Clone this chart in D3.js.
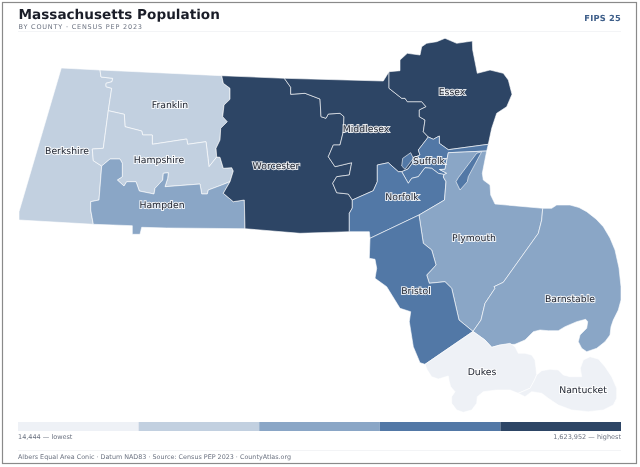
<!DOCTYPE html>
<html><head><meta charset="utf-8">
<script src="https://cdn.jsdelivr.net/npm/d3@7"></script>
<style>html,body{margin:0;padding:0;background:#fff}svg{display:block}text{font-family:"DejaVu Sans",sans-serif;text-rendering:geometricPrecision}</style>
</head><body><svg id="c" width="640" height="467"><defs><filter id="gray" filterUnits="userSpaceOnUse" x="0" y="0" width="640" height="467" color-interpolation-filters="sRGB"><feOffset dx="0" dy="0"/></filter></defs></svg>
<script>
// County population (read / estimated)
const counties = ["Berkshire","Franklin","Hampshire","Hampden","Worcester","Middlesex","Essex","Suffolk","Norfolk","Plymouth","Bristol","Barnstable","Dukes","Nantucket"];
const population = [129000,71000,162000,462000,862000,1623952,809000,771000,725000,530000,579000,228000,20600,14444];
const thresholds = [50000,200000,550000,800000];
const palette = ["#eef1f6","#c2d0e0","#8aa6c6","#5278a6","#2d4565"];
const legendLabels = ["14,444 — lowest","1,623,952 — highest"];
const labelAnchors = [[67,150.5],[170,105],[159,159.5],[162,204.5],[276,166],[366,129],[452,92],[429,161],[402,197],[474,238],[416,291],[570,299],[482,372],[583,390]];

// Shared borders, in projected map units
const bkFr = [[100,70],[101,77],[112.7,78.3],[112,81.7],[106,83.3],[106,86.7],[111.7,88.3],[108.3,110.7]];
const bkHs = [[108.3,110.7],[103.3,148.3],[92.3,149],[93.3,160.7],[101.7,166]];
const bkHd = [[101.7,166],[99,200],[90.7,201.7],[90.7,210],[93.3,224.3]];
const frHs = [[108.3,110.7],[124.3,114.3],[125,126.7],[141.7,131],[142.7,135],[152.3,135],[152.3,144.3],[186.7,139],[187.7,144.3],[206,141.7],[209,166.7],[216.7,157]];
const frWo = [[221.7,75.7],[223.3,83.3],[230,88.3],[230,99.3],[224,105],[222.7,116.7],[227.3,121.7],[220.7,128.3],[220,140],[216,148.3],[216.7,157]];
const hsHd = [[101.7,166],[110,159],[120,159],[122.3,163.3],[122.3,176.7],[117.3,180],[124,186],[126.7,181.7],[136,181.7],[139.3,191],[154,194],[155,188.3],[162.7,180],[163.3,173.3],[168.3,172.7],[167.7,178.3],[165,186.7],[200,184],[201.7,194],[207.3,194],[208.3,190],[221.7,185],[230,181.7]];
const hsWo = [[216.7,157],[220,157.3],[223.3,168.3],[231.7,167.7],[233.3,171],[230,181.7]];
const hdWo = [[230,181.7],[223.3,193.3],[233.3,201.7],[244.3,200],[245,228.7]];
const hdCoast = [[245,228.7],[166.7,228],[141.7,227.3],[140,234.3],[132.3,234.3],[132.3,225.7],[93.3,224.3]];
const wmEdge = [[284.3,78.3],[290.7,87.3],[290.7,94.3],[305,93.3],[320,99],[321,116.7],[326,118.3],[328.3,114],[340,113.3],[344,116.7],[343.3,131.7],[340,145],[333.3,145],[328.3,156.7],[335,166.7],[351.7,162.7],[349.3,175],[336.7,176.7],[332.7,183.3],[336.7,192.7],[348.3,194],[352.3,200]];
const wNf = [[352.3,200],[352.3,208],[349.3,213.3],[349.3,231.7]];
const mxNf = [[352.3,200],[373.3,190.7],[377.3,181.7],[377.3,165],[388.3,162.7],[398.3,171.7],[401.7,171.7]];
const mxEs = [[389,71.7],[389,88.3],[401.7,98.3],[405,98.3],[407.3,101.7],[421.7,101.7],[426,106.7],[419.3,110],[419.3,116.7],[425,120],[423.3,131.7],[428.3,137]];
const mxSu = [[428.3,137],[418.3,150],[420,155],[413.3,158],[412.5,163],[408,169],[401.7,171.7]];
const suEs = [[428.3,137],[433.3,139.3],[439.3,136],[439.3,143.3],[448.3,149.7]];
const suNf = [[401.7,171.7],[408.3,183.3],[411.7,178.3],[418.3,176.7],[425,167.7],[431.7,168.3],[438.3,173.3],[444,174.5]];
const plWest = [[448.3,152.7],[445,169.3],[439.5,169.5],[446.7,173.3],[444,174.5]];
const plNf = [[444,174.5],[443.3,177],[446,181.7],[444.5,200],[419,215]];
const plBr = [[419,215],[423.3,243.3],[431.7,250],[436,265],[426.7,275],[429.3,283.3],[445,281.7],[451.7,288.3],[459,320],[473,331.4]];
const plBa = [[473,331.4],[481,320],[485,303.3],[495,288.3],[494,286.7],[503.3,282.3],[538.3,233.3],[541.7,220],[542.7,208.3]];
const plCoast = [[542.7,208.3],[495,204],[490.7,195],[490,185],[483.3,180],[482.3,173.3],[486.7,151]];
const baDu = [[473,331.4],[485,340],[491.7,347.3]];

const ringBerkshire = [[61.3,68],...bkFr,...bkHs.slice(1),...bkHd.slice(1),[19,220],[19,211.7]];
const ringFranklin = [[100,70],[221.7,75.7],...frWo.slice(1),...frHs.slice().reverse().slice(1),...bkFr.slice().reverse().slice(1)];
const ringHampshire = [...frHs,...hsWo.slice(1),...hsHd.slice().reverse().slice(1),...bkHs.slice().reverse().slice(1)];
const ringHampden = [...hsHd,...hdWo.slice(1),...hdCoast.slice(1),...bkHd.slice().reverse().slice(1)];
const ringWorcester = [[221.7,75.7],...wmEdge,...wNf.slice(1),[300,233.3],...hdWo.slice().reverse(),...hsWo.slice().reverse().slice(1),...frWo.slice().reverse().slice(1)];
const ringMiddlesex = [[284.3,78.3],[383.3,81],...mxEs,...mxSu.slice(1),...mxNf.slice().reverse().slice(1),...wmEdge.slice().reverse().slice(1)];
const ringEssex = [[389,71.7],[400,70.7],[400,60],[407.3,53.3],[420,55],[421.7,46.7],[426.7,43.3],[436.7,41.7],[445,38.3],[456.7,43.3],[472.3,41],[472.7,50],[477.3,73.3],[490,70],[503.3,73.3],[508.3,80],[512,94.3],[506.7,106.7],[496.7,113.3],[491.7,128.3],[488.3,144.3],...suEs.slice().reverse(),...mxEs.slice().reverse().slice(1)];
const ringSuffolk = [...suEs,[488.3,144.3],[486.7,151],...plWest,...suNf.slice().reverse().slice(1),...mxSu.slice().reverse().slice(1)];
const ringSuffolkIslet = [[402.7,158.3],[410.7,152.7],[413.3,158.3],[405,169.3],[401.7,166]];
const ringHull = [[481.7,151.7],[468.3,176.7],[467.3,181.7],[460,190],[456,181.7],[458.3,177.7],[476.7,153.3]];
const ringNorfolk = [...mxNf,...suNf.slice(1),...plNf.slice(1),[370,238.3],[369.3,231.7],...wNf.slice().reverse()];
const ringPlymouth = [...plWest.slice(0,-1),...plNf,...plBr.slice(1),...plBa.slice(1),...plCoast.slice(1)];
const ringBristol = [...plBr.slice().reverse(),[370,238.3],[369.3,258.3],[375,259.3],[376.7,268.3],[375,278.3],[386.7,286.7],[400,308.3],[410.7,311.7],[409.3,321.7],[413.3,346.7],[420,362.7],[425,364.3]];
const ringBarnstable = [...plBa,[551.7,208.3],[556.7,205],[570,205],[579,207.5],[586.7,211.7],[596,219],[603.3,226.7],[610,238],[615,250],[619,268],[621,286.7],[621,300],[618.3,310],[613.3,320],[611,326.7],[610,335],[605,341.7],[596.7,348.3],[586.7,351.7],[581.7,348.3],[578.3,341.7],[580,335],[586.7,328.3],[587.7,321.7],[585.7,319.3],[576.7,321.7],[565,326.7],[558.3,330.7],[548.3,330.7],[540,330],[533.3,331.7],[525,340],[515,344.3],[500,345],[491.7,347.3],...baDu.slice().reverse().slice(1)];
const ringDukes = [...baDu,[500,345],[510,343.3],[515,346.7],[518.3,353.3],[525,353.3],[531.7,355],[535,360],[536,368.3],[536.7,375],[534,381],[530,388.3],[518.3,393.3],[510,390],[496.7,390],[483.3,391.7],[477.3,396.7],[476.7,403.3],[471.7,410],[463.3,412.3],[456.7,410],[451.7,403.3],[451.7,396.7],[455,391.7],[450.7,386.7],[449.3,381.7],[448.3,376],[438.3,379],[431.7,376.7],[427.3,370],[425,364.3]];
const ringNantucket = [[518.3,393.3],[530,388.3],[534,381],[536.7,375],[541.7,370.7],[550,369.3],[558.3,370],[563.3,375],[570,376.7],[581.7,376.7],[580.3,368.3],[583.3,360],[590,356.7],[598.3,359],[605,366.7],[611.7,376.7],[616.7,388.3],[616.7,398.3],[613.3,405],[603.3,410],[588.3,411.7],[571.7,410],[558.3,405],[548.3,398.3],[541.7,393.3],[531.7,391.7],[525,396.7]];

const shapes = [[ringBerkshire],[ringFranklin],[ringHampshire],[ringHampden],[ringWorcester],[ringMiddlesex],[ringEssex],[ringSuffolk,ringSuffolkIslet],[ringNorfolk],[ringPlymouth],[ringBristol],[ringBarnstable],[ringDukes],[ringNantucket]];
const hullCounty = 7;

const svg = d3.select("#c");
const color = d3.scaleThreshold().domain(thresholds).range(palette);
const path = d3.geoPath(d3.geoIdentity());
const closed = r => [...r, r[0]];
const feature = (rings,i) => ({type:"Feature",properties:{i},geometry:{type:"MultiPolygon",coordinates:rings.map(r=>[closed(r)])}});

svg.append("rect").attr("x",2.5).attr("y",2.5).attr("width",634).attr("height",461).attr("fill","#fff").attr("stroke","#8a8a8a").attr("stroke-width",1.2);
svg.append("line").attr("x1",18).attr("x2",621).attr("y1",31.5).attr("y2",31.5).attr("stroke","#f3f4f6");

const g = svg.append("g");
g.selectAll("path.county").data(shapes.map(feature)).join("path").attr("class","county")
  .attr("d",path).attr("fill",d=>color(population[d.properties.i])).attr("stroke","#fff").attr("stroke-width",0.6).attr("stroke-linejoin","round");
g.append("path").datum(feature([ringHull],hullCounty)).attr("d",path).attr("fill",d=>color(population[d.properties.i])).attr("stroke","#fff").attr("stroke-width",0.6);

const lx = d3.scaleBand().domain(d3.range(palette.length)).range([18,621]);
svg.append("g").selectAll("rect").data(palette).join("rect").attr("x",(d,i)=>lx(i)).attr("y",422).attr("width",lx.bandwidth()).attr("height",9).attr("fill",d=>d);
svg.append("line").attr("x1",18).attr("x2",621).attr("y1",450.5).attr("y2",450.5).attr("stroke","#f3f4f6");

const t = svg.append("g").attr("filter","url(#gray)");
t.append("text").attr("x",18.5).attr("y",18.8).attr("font-size",13.6).attr("font-weight",700).attr("fill","#1a1d28").text("Massachusetts Population");
t.append("text").attr("x",18.5).attr("y",28.7).attr("font-size",6.5).attr("letter-spacing",0.8).attr("fill","#6b7280").text("BY COUNTY · CENSUS PEP 2023");
t.append("text").attr("x",621).attr("y",20.7).attr("text-anchor","end").attr("font-size",8.3).attr("font-weight",700).attr("letter-spacing",0.2).attr("fill","#3f5f8a").text("FIPS 25");
t.append("g").selectAll("text").data(counties).join("text")
  .attr("x",(d,i)=>labelAnchors[i][0]).attr("y",(d,i)=>labelAnchors[i][1]).attr("dy","0.35em").attr("text-anchor","middle")
  .attr("font-size",9.3).attr("fill","#222733").attr("stroke","#fff").attr("stroke-width",2).attr("stroke-opacity",0.85).attr("paint-order","stroke").text(d=>d);
t.append("text").attr("x",18).attr("y",439.3).attr("font-size",6.5).attr("fill","#6b7280").text(legendLabels[0]);
t.append("text").attr("x",621).attr("y",439.3).attr("text-anchor","end").attr("font-size",6.5).attr("fill","#6b7280").text(legendLabels[1]);
t.append("text").attr("x",18).attr("y",459).attr("font-size",6.4).attr("fill","#6b7280").text("Albers Equal Area Conic · Datum NAD83 · Source: Census PEP 2023 · CountyAtlas.org");
</script></body></html>
